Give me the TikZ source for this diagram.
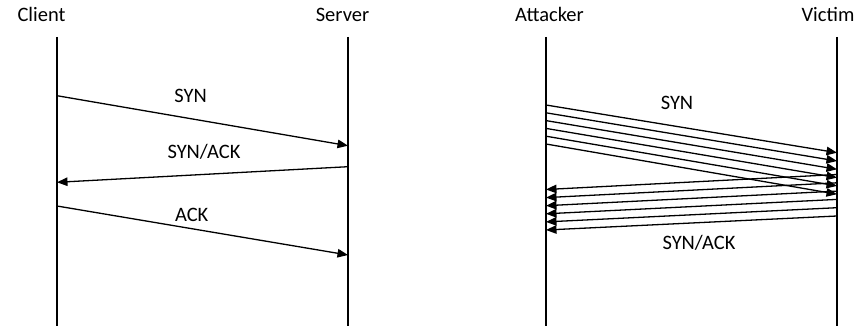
\documentclass[tikz,border=0pt]{standalone}
\usepackage{fontspec}
\setmainfont{Carlito}
\usetikzlibrary{arrows.meta}

\tikzset{
  lifeline/.style={line width=1.2pt, black},
  msg/.style={line width=1.3pt, black, -{Triangle[length=10.5pt,width=8.5pt]}},
  header/.style={anchor=base, inner sep=0pt, font=\fontsize{20.5}{24}\selectfont},
  msglabel/.style={anchor=base, inner sep=0pt, font=\fontsize{20.5}{24}\selectfont},
}

\begin{document}
\begin{tikzpicture}[x=1pt, y=-1pt]
\useasboundingbox (0,0) rectangle (861,326);

% participants
\node[header] (client)   at (41.5,21.7)  {Client};
\node[header] (server)   at (342.5,21.7) {Server};
\node[header] (attacker) at (549.5,21.7) {Attacker};
\node[header] (victim)   at (828,21.7)   {Victim};

% lifeline ends
\coordinate (cT) at (57,37);  \coordinate (cB) at (57,326);
\coordinate (sT) at (348,37); \coordinate (sB) at (348,326);
\coordinate (aT) at (546,37); \coordinate (aB) at (546,326);
\coordinate (vT) at (837,37); \coordinate (vB) at (837,326);

\draw[lifeline] (cT) -- (cB);
\draw[lifeline] (sT) -- (sB);
\draw[lifeline] (aT) -- (aB);
\draw[lifeline] (vT) -- (vB);

% normal three-way handshake
\coordinate (c1) at (57,95.7);  \coordinate (s1) at (348,145.7);
\coordinate (s2) at (348,166.7); \coordinate (c2) at (57,182.3);
\coordinate (c3) at (57,206);   \coordinate (s3) at (348,255);

\draw[msg] (c1) -- (s1);
\draw[msg] (s2) -- (c2);
\draw[msg] (c3) -- (s3);

\node[msglabel] (lsyn)    at (190.7,102.7) {SYN};
\node[msglabel] (lsynack) at (204,158.3)   {SYN/ACK};
\node[msglabel] (lack)    at (191.7,221.7) {ACK};

% SYN flood: many SYNs, many SYN/ACKs left unanswered
\foreach \k in {0,...,5} {
  \coordinate (aS\k) at (546,{105+7.8*\k});
  \coordinate (vS\k) at (837,{152.7+8.3*\k});
  \coordinate (vA\k) at (837,{174.5+8.3*\k});
  \coordinate (aA\k) at (546,{189.5+8.1*\k});
  \draw[msg] (aS\k) -- (vS\k);
  \draw[msg] (vA\k) -- (aA\k);
}

\node[msglabel] (rsyn)    at (677,110) {SYN};
\node[msglabel] (rsynack) at (699,249) {SYN/ACK};
\end{tikzpicture}
\end{document}
